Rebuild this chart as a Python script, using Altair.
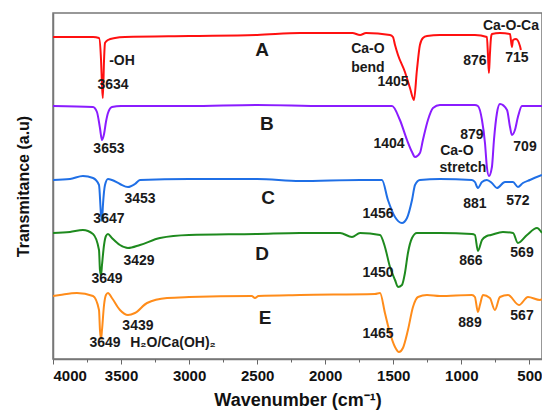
import altair as alt
import pandas as pd

# ---- spectra (wavenumber, transmittance a.u.) ----
A_wn = [4000, 3875, 3706, 3662, 3647, 3640, 3634, 3625, 3618, 3596, 3544, 3471, 3000, 2500, 2185, 1800, 1744, 1700, 1524, 1502, 1487, 1465, 1414, 1377, 1348, 1326, 1304, 1282, 1252, 1157, 900, 812, 804, 797, 790, 782, 775, 716, 642, 628, 620, 598, 569, 562]
A_val = [322, 322, 322, 321, 299, 274, 261, 299, 316, 319, 321, 322, 323, 324, 326, 326, 324, 326, 324, 322, 314, 304, 287, 271, 259, 289, 314, 321, 323, 324, 324, 322, 304, 286, 304, 321, 325, 326, 325, 312, 319, 320, 313, 309]

B_wn = [4000, 3706, 3677, 3655, 3640, 3625, 3611, 3596, 3567, 3500, 3000, 2500, 2000, 1509, 1451, 1399, 1362, 1340, 1304, 1282, 1245, 1208, 1157, 900, 878, 848, 826, 812, 797, 775, 760, 738, 716, 664, 642, 628, 606, 584, 554, 407]
B_val = [253, 252, 247, 231, 219, 225, 237, 246, 252, 253, 253, 254, 253, 253, 239, 219, 207, 202, 206, 219, 239, 251, 254, 254, 253, 239, 216, 192, 183, 192, 219, 246, 255, 249, 232, 224, 229, 242, 253, 253]

C_wn = [4000, 3875, 3780, 3706, 3662, 3647, 3640, 3633, 3618, 3596, 3567, 3508, 3449, 3398, 3361, 3000, 2500, 2185, 1744, 1583, 1539, 1487, 1436, 1399, 1362, 1340, 1304, 1157, 922, 900, 878, 848, 812, 775, 738, 679, 620, 584, 547, 496, 407]
C_val = [179, 180, 183, 181, 174, 144, 138, 154, 174, 180, 179, 175, 172, 175, 179, 180, 180, 178, 179, 179, 159, 142, 136, 141, 159, 174, 179, 180, 179, 177, 171, 177, 179, 176, 171, 177, 177, 172, 176, 179, 184]

D_wn = [4000, 3875, 3780, 3706, 3662, 3655, 3647, 3640, 3625, 3611, 3596, 3567, 3508, 3449, 3361, 3214, 3000, 2500, 2185, 1891, 1803, 1744, 1597, 1561, 1524, 1487, 1465, 1436, 1414, 1392, 1362, 1326, 1157, 922, 900, 878, 848, 812, 782, 694, 620, 584, 517, 444, 407]
D_val = [126, 127, 129, 125, 109, 89, 84, 94, 114, 123, 125, 121, 114, 111, 114, 121, 124, 125, 126, 126, 122, 126, 124, 112, 92, 79, 72, 74, 86, 106, 121, 126, 126, 125, 124, 108, 119, 123, 124, 127, 126, 116, 124, 131, 126]

E_wn = [4000, 3949, 3824, 3706, 3662, 3655, 3647, 3640, 3625, 3611, 3596, 3567, 3508, 3449, 3398, 3309, 3162, 3000, 2540, 2516, 2490, 2185, 1634, 1597, 1561, 1524, 1487, 1458, 1429, 1392, 1355, 1318, 1252, 1157, 922, 900, 878, 863, 841, 790, 753, 716, 657, 576, 510, 422, 407]
E_val = [63, 64, 66, 63, 49, 29, 20, 29, 54, 64, 66, 61, 49, 44, 46, 56, 61, 62, 63, 61, 63, 64, 65, 66, 46, 26, 12, 7, 11, 29, 52, 62, 64, 63, 64, 62, 47, 54, 64, 61, 49, 62, 64, 54, 62, 59, 60]

series_names = ["A", "B", "C", "D", "E"]
series_colors = ["#ff1010", "#8a1cff", "#1f6fe6", "#1e8a1e", "#ff8c1a"]

# ---- annotations ----
ann_text = ["A", "B", "C", "D", "E",
            "-OH", "3634", "3653", "3453", "3647", "3429", "3649", "3439", "3649", "H₂O/Ca(OH)₂",
            "Ca-O", "bend", "1405", "876", "Ca-O-Ca", "715",
            "1404", "879", "Ca-O", "stretch", "709",
            "1456", "881", "572", "1450", "866", "569", "1465", "889", "567"]
ann_wn = [2464, 2428, 2420, 2464, 2442,
          3493, 3559, 3589, 3361, 3589, 3368, 3603, 3376, 3618, 3118,
          1686, 1686, 1502, 900, 635, 591,
          1531, 922, 1032, 988, 532,
          1612, 900, 584, 1612, 929, 554, 1612, 936, 554]
ann_val = [309, 235, 161, 105, 41,
           298, 274, 210, 160, 140, 98, 80, 33, 16, 16,
           310, 291, 277, 298, 333, 301,
           215, 224, 208, 191, 212,
           145, 155, 158, 86, 98, 106, 25, 36, 43]
ann_size = [19] * 5 + [14] * 30

rows = []
for name, wn, val in zip(series_names, [A_wn, B_wn, C_wn, D_wn, E_wn],
                         [A_val, B_val, C_val, D_val, E_val]):
    for i, (w, v) in enumerate(zip(wn, val)):
        rows.append({"series": name, "wn": w, "val": v, "i": i})
df = pd.DataFrame(rows)
ann = pd.DataFrame({"t": ann_text, "wn": ann_wn, "val": ann_val, "size": ann_size})

FONT = "Liberation Sans"
xscale = alt.Scale(domain=[4000, 407], zero=False, nice=False)
yscale = alt.Scale(domain=[0, 346], zero=False, nice=False)

major = [4000, 3500, 3000, 2500, 2000, 1500, 1000, 500]
minor = [3750, 3250, 2750, 2250, 1750, 1250, 750]

yaxis = alt.Axis(title="Transmitance (a.u)", labels=False, ticks=False, grid=False,
                 domainColor="#777", domainWidth=1.5, titleFont=FONT, titleFontSize=16,
                 titleFontWeight="bold", titleColor="#111", titlePadding=22)

lines = alt.Chart(df).mark_line(strokeWidth=2, interpolate="monotone").encode(
    x=alt.X("wn:Q", scale=xscale,
            axis=alt.Axis(values=major, format="d", title="Wavenumber (cm⁻¹)", grid=False,
                          tickSize=5, tickColor="#666", domainColor="#777", domainWidth=1.5,
                          labelFont=FONT, labelFontSize=15, labelFontWeight="bold", labelColor="#111",
                          labelPadding=4, titleFont=FONT, titleFontSize=18, titleFontWeight="bold",
                          titleColor="#111", titlePadding=8, orient="bottom")),
    y=alt.Y("val:Q", scale=yscale, axis=yaxis),
    color=alt.Color("series:N", scale=alt.Scale(domain=series_names, range=series_colors), legend=None),
    order="i:Q",
)

texts = alt.Chart(ann).mark_text(font=FONT, fontWeight="bold", color="#1a1a1a",
                                 align="center", baseline="middle").encode(
    x=alt.X("wn:Q", scale=xscale,
            axis=alt.Axis(values=minor, labels=False, title=None, domain=False, grid=False,
                          tickSize=3, tickColor="#666", orient="bottom")),
    y=alt.Y("val:Q", scale=yscale, axis=yaxis),
    text="t:N",
    size=alt.Size("size:Q", scale=None, legend=None),
)

chart = alt.layer(lines, texts).resolve_axis(x="independent", y="shared").properties(
    width=489, height=346,
    autosize=alt.AutoSizeParams(type="none"),
    padding={"left": 53, "top": 13, "right": 0, "bottom": 55},
).configure_view(stroke="#777", strokeWidth=1.5)

chart.save("out.html", embed_options={"renderer": "svg", "actions": False})
